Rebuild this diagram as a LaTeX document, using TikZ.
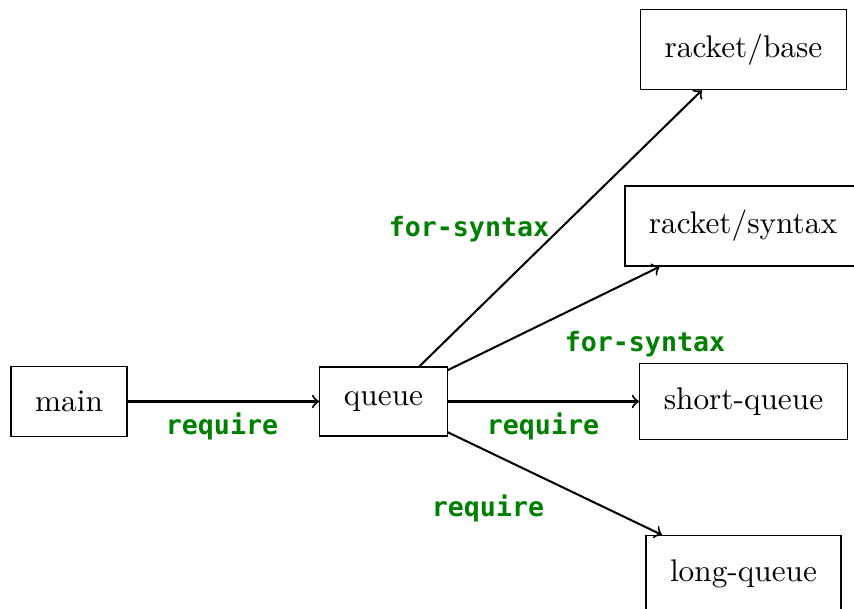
\documentclass[tikz,border=0pt]{standalone}
\usepackage{fontspec}
\newfontfamily\lblfont{DejaVu Sans Mono}
\definecolor{lblgreen}{RGB}{0,128,0}
\tikzset{
  box/.style={draw, line width=0.4pt, inner xsep=7.7pt, inner ysep=7.8pt, font=\fontsize{10}{12}\selectfont},
  lbl/.style={inner sep=0pt, text=lblgreen, font=\lblfont\bfseries\fontsize{8.5}{10}\selectfont},
  edge/.style={->, line width=0.65pt}
}
\begin{document}
\begin{tikzpicture}[x=0.3195pt, y=-0.3195pt]
\path[use as bounding box, clip] (0,0) rectangle (854,609);
\node[box] (main) at (69,401.5) {main};
\node[box] (queue) at (383.5,401.5) {queue};
\node[box] (base) at (743.5,49.5) {racket/base};
\node[box] (syntax) at (743,226) {racket/syntax};
\node[box] (short) at (743.5,401.5) {short-queue};
\node[box] (long) at (743.5,574) {long-queue};
\draw[edge] (main) -- (queue);
\draw[edge] (queue) -- (base);
\draw[edge] (queue) -- (syntax);
\draw[edge] (queue) -- (short);
\draw[edge] (queue) -- (long);
\node[lbl] (l1) at (222,426.5) {require};
\node[lbl] (l2) at (469,229) {for-syntax};
\node[lbl] (l3) at (645,344) {for-syntax};
\node[lbl] (l4) at (543,426.5) {require};
\node[lbl] (l5) at (488,508.5) {require};
\end{tikzpicture}
\end{document}
